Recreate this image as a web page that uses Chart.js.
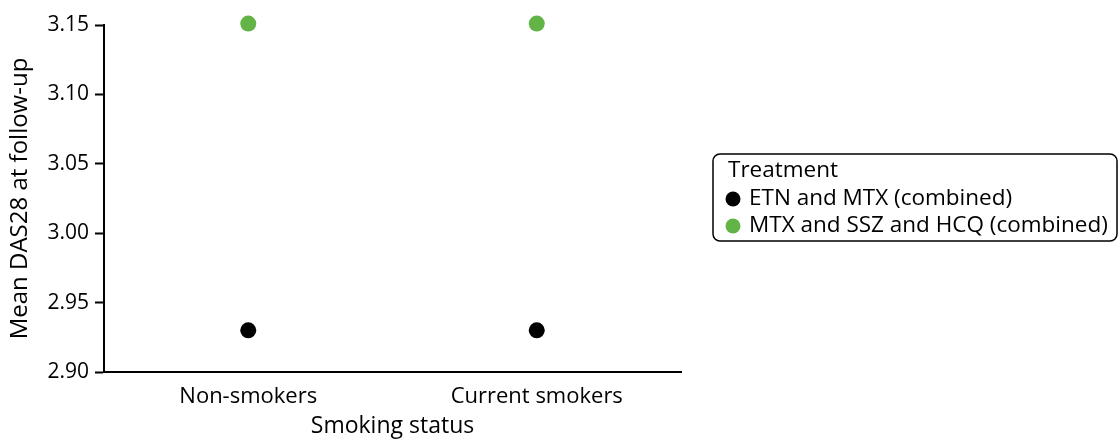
<!DOCTYPE html>
<html><head><meta charset="utf-8">
<script src="https://cdn.jsdelivr.net/npm/chart.js@4/dist/chart.umd.min.js"></script>
<style>html,body{margin:0;padding:0;background:#fff}#wrap{width:1119px;height:440px}</style>
</head><body><div id="wrap"><canvas id="c" width="1119" height="440"></canvas></div>
<script>
const categories = ["Non-smokers", "Current smokers"];
const seriesNames = ["ETN and MTX (combined)", "MTX and SSZ and HCQ (combined)"];
const etnMtx = [2.930, 2.930];
const mtxSszHcq = [3.151, 3.151];
const yTicks = [2.90, 2.95, 3.00, 3.05, 3.10, 3.15];
const colors = ["#000000", "#62b446"];
const FONT = "'Open Sans', sans-serif";

const legendBox = {
  id: 'legendBox',
  afterDraw(chart) {
    const ctx = chart.ctx;
    const x = 713, y = 154, w = 404, h = 87;
    ctx.save();
    ctx.lineWidth = 1.5;
    ctx.strokeStyle = '#000';
    ctx.beginPath();
    ctx.roundRect(x, y, w, h, 7);
    ctx.stroke();
    ctx.fillStyle = '#000';
    ctx.font = "22.5px " + FONT;
    ctx.textBaseline = 'middle';
    ctx.fillText("Treatment", x + 15, y + 17);
    chart.data.datasets.forEach((ds, i) => {
      const cy = y + 45 + i * 27;
      ctx.fillStyle = ds.backgroundColor;
      ctx.beginPath();
      ctx.arc(x + 20, cy, 7.5, 0, Math.PI * 2);
      ctx.fill();
      ctx.fillStyle = '#000';
      ctx.fillText(ds.label, x + 36, cy);
    });
    ctx.restore();
  }
};

new Chart(document.getElementById('c'), {
  type: 'line',
  data: {
    labels: categories,
    datasets: [
      { label: seriesNames[0], data: etnMtx, backgroundColor: colors[0], borderColor: colors[0], showLine: false, pointRadius: 8, pointHoverRadius: 8, pointBorderWidth: 0, clip: false },
      { label: seriesNames[1], data: mtxSszHcq, backgroundColor: colors[1], borderColor: colors[1], showLine: false, pointRadius: 8, pointHoverRadius: 8, pointBorderWidth: 0, clip: false }
    ]
  },
  options: {
    responsive: false,
    animation: false,
    layout: { padding: { left: 0, right: 438, top: 25, bottom: 0 } },
    plugins: { legend: { display: false }, tooltip: { enabled: false } },
    scales: {
      x: {
        type: 'category',
        offset: true,
        afterFit(axis) { axis.height = 68; },
        grid: { display: false, drawTicks: false },
        border: { display: true, color: '#000', width: 2 },
        ticks: { color: '#000', font: { family: FONT, size: 22 }, padding: 12, maxRotation: 0 },
        title: { display: true, text: 'Smoking status', color: '#000', font: { family: FONT, size: 23 }, padding: { top: 0, bottom: 0 } }
      },
      y: {
        min: 2.90, max: 3.15,
        afterFit(axis) { axis.width = 104; },
        afterBuildTicks(axis) { axis.ticks = yTicks.map(v => ({ value: v })); },
        grid: { display: true, drawOnChartArea: false, drawTicks: true, tickLength: 9, tickColor: '#000', tickWidth: 2 },
        border: { display: true, color: '#000', width: 2 },
        ticks: { color: '#000', font: { family: FONT, size: 21 }, padding: 6, callback: v => Number(v).toFixed(2) },
        title: { display: true, text: 'Mean DAS28 at follow-up', color: '#000', font: { family: FONT, size: 24 }, padding: { top: 6, bottom: 0 } }
      }
    }
  },
  plugins: [legendBox]
});
</script></body></html>
